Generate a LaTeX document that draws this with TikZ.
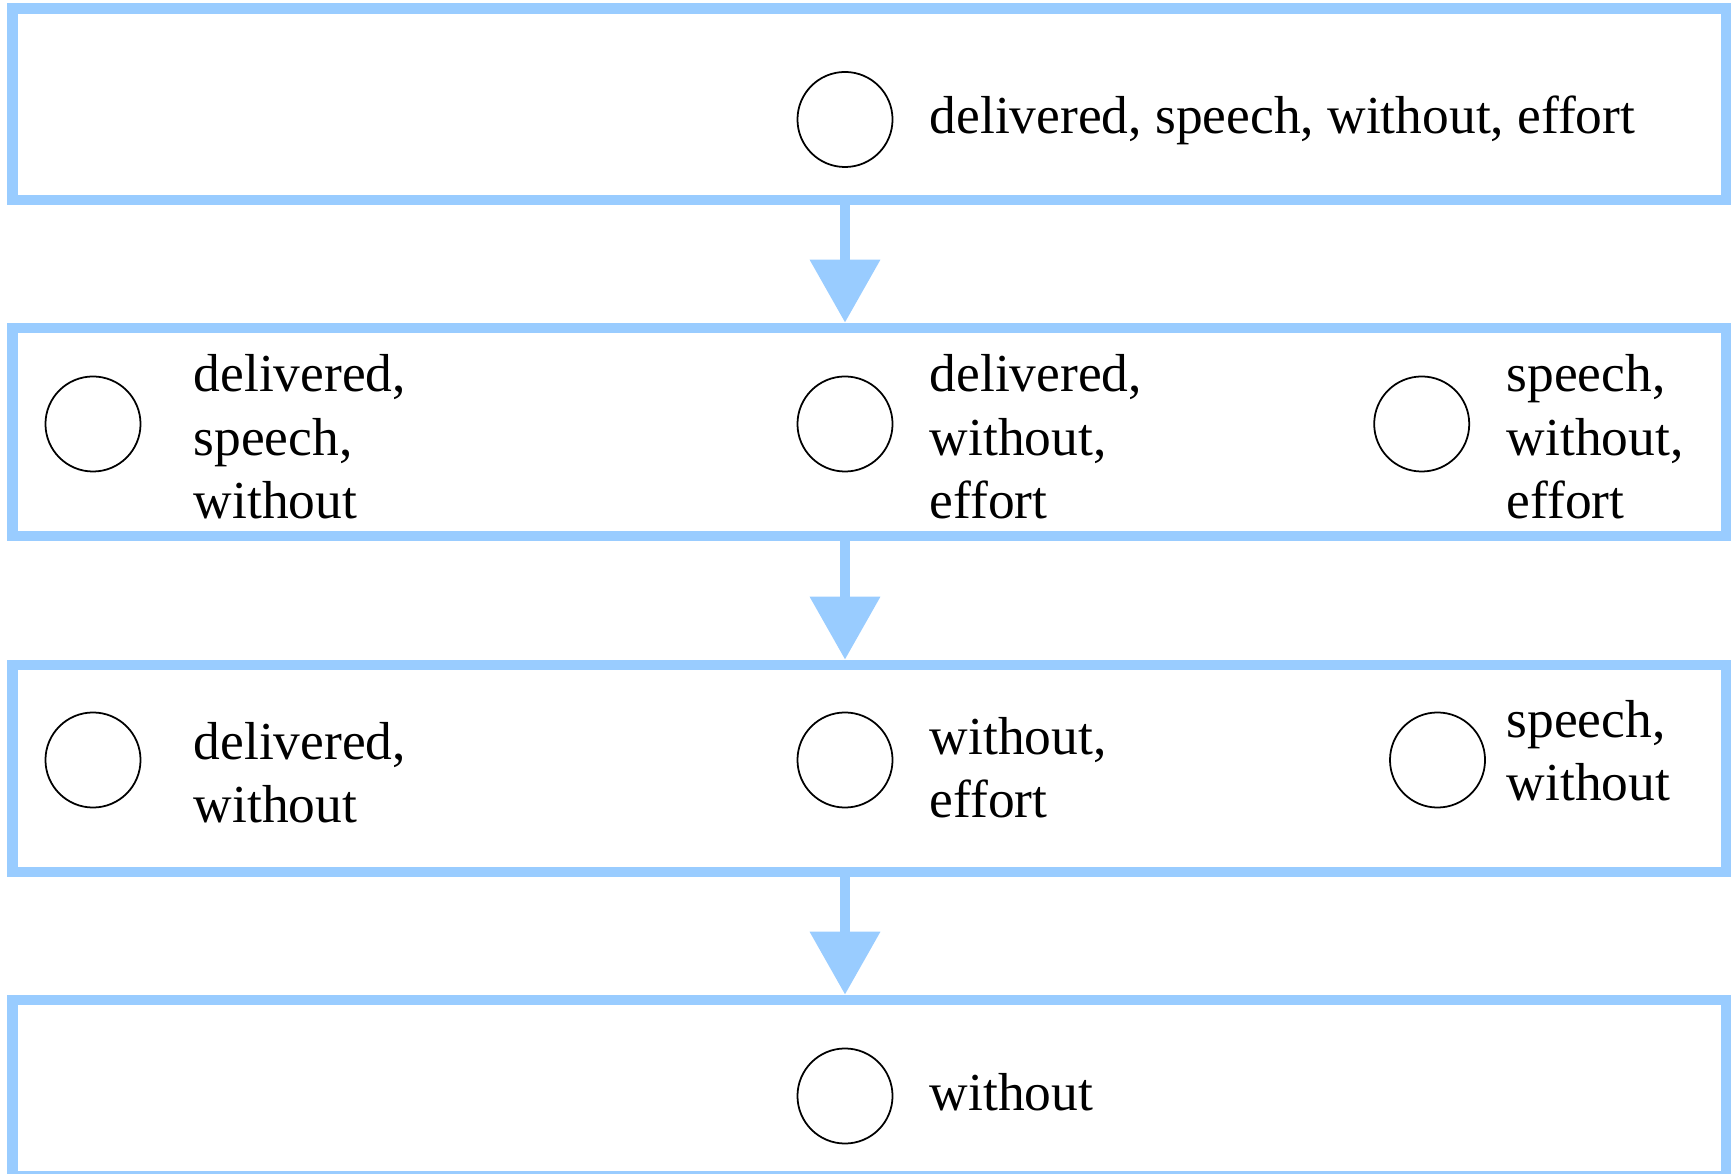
\documentclass[tikz,border=0pt]{standalone}
\usepackage{fontspec}
\setmainfont{Liberation Serif}
\usepackage{tikz}
\usetikzlibrary{arrows.meta, positioning, shapes}

\definecolor{lvlblue}{HTML}{99CCFF}

\begin{document}
\begin{tikzpicture}[
    x=0.01cm, y=-0.01cm,
    level/.style={draw=lvlblue, line width=3pt, rectangle, inner sep=0pt,
                  minimum width=17.125cm},
    dot/.style  ={draw, circle, line width=0.5pt, inner sep=0pt,
                  minimum size=0.95cm},
    words/.style={anchor=base west, align=left, inner sep=0pt,
                  font=\fontsize{15.2}{18.1}\selectfont},
    arr/.style={-{Triangle[length=0.63cm, width=0.68cm]}, draw=lvlblue,
                fill=lvlblue, line width=3pt}
]
\useasboundingbox (0,0) rectangle (1734,1174);

% levels
\node[level, minimum height=1.915cm] (b1) at (869.25, 104.25) {};
\node[level, minimum height=2.08cm]  (b2) at (869.25, 432)    {};
\node[level, minimum height=2.07cm]  (b3) at (869.25, 768.5)  {};
\node[level, minimum height=1.763cm] (b4) at (869.25, 1088.15) {};

% level 1
\node[dot]   (c1)  at (845, 119.5) {};
\node[words] (t1)  at (929, 134) {delivered, speech, without, effort};

% level 2 (base = last line)
\node[dot]   (c21) at (93, 424)     {};
\node[words] (t21) at (193, 519)    {delivered,\\speech,\\without};
\node[dot]   (c22) at (845, 424)    {};
\node[words] (t22) at (929, 519)    {delivered,\\without,\\effort};
\node[dot]   (c23) at (1421.7, 424) {};
\node[words] (t23) at (1506, 519)   {speech,\\without,\\effort};

% level 3
\node[dot]   (c31) at (93, 760)     {};
\node[words] (t31) at (193, 823)    {delivered,\\without};
\node[dot]   (c32) at (845, 760)    {};
\node[words] (t32) at (929, 818)    {without,\\effort};
\node[dot]   (c33) at (1437.5, 760) {};
\node[words] (t33) at (1506, 801)   {speech,\\without};

% level 4
\node[dot]   (c4)  at (845, 1096)   {};
\node[words] (t4)  at (929, 1110)   {without};

\draw[arr] (b1.south -| c1) -- (b2.north -| c1);
\draw[arr] (b2.south -| c1) -- (b3.north -| c1);
\draw[arr] (b3.south -| c1) -- (b4.north -| c1);
\end{tikzpicture}
\end{document}
